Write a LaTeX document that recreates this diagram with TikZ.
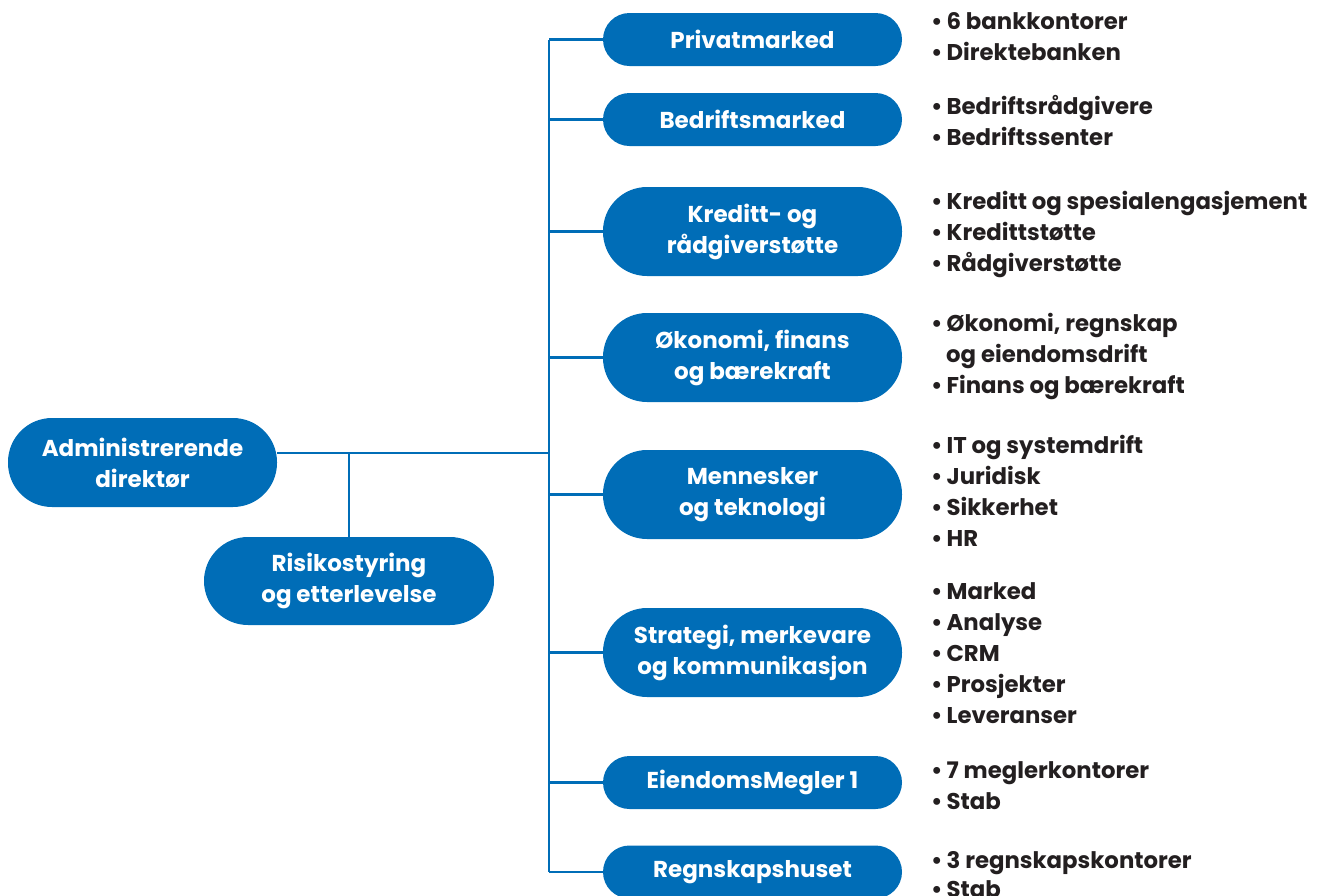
\documentclass[tikz,border=0pt]{standalone}
\usepackage{fontspec}
\setmainfont{Poppins}
\definecolor{orgblue}{HTML}{006DB7}
\definecolor{txt}{HTML}{231F20}
\tikzset{
  box/.style={fill=orgblue, rounded corners=44pt, text=white, font=\bfseries\fontsize{23}{31}\selectfont, align=center, inner sep=0pt},
  onebox/.style={box, minimum width=299pt, minimum height=53pt, rounded corners=26.5pt},
  twobox/.style={box, minimum width=299pt, minimum height=89pt},
  item/.style={anchor=base west, inner sep=0pt, text=txt, font=\bfseries\fontsize{22.8}{31}\selectfont},
  conn/.style={draw=orgblue, line width=2.5pt}
}
\begin{document}
\begin{tikzpicture}[x=1pt,y=-1pt]
\useasboundingbox (0,0) rectangle (1333,895);
% left boxes
\node[box, minimum width=269pt, minimum height=89pt] (adm) at (142.5,462.5) {Administrerende\\direktør};
\node[box, minimum width=290pt, minimum height=88pt] (risk) at (349,581) {Risikostyring\\og etterlevelse};
% right boxes
\node[onebox] (pm) at (752.5,39.5) {Privatmarked};
\node[onebox] (bm) at (752.5,119.5) {Bedriftsmarked};
\node[twobox] (kr) at (752.5,231.5) {Kreditt- og\\rådgiverstøtte};
\node[twobox] (ok) at (752.5,357.5) {Økonomi, finans\\og bærekraft};
\node[twobox] (me) at (752.5,494.5) {Mennesker\\og teknologi};
\node[twobox] (st) at (752.5,652.5) {Strategi, merkevare\\og kommunikasjon};
\node[onebox] (em) at (752.5,782.5) {EiendomsMegler 1};
\node[onebox] (rh) at (752.5,872) {Regnskapshuset};
% bus
\coordinate (bt) at (549,39.5);
\coordinate (bb) at (549,872);
\coordinate (bj) at (549,453);
\coordinate (rj) at (349,453);
\draw[conn] (bt) -- (bb);
\draw[conn] (adm.east |- bj) -- (bj);
\draw[conn] (rj) -- (risk.north);
\foreach \n in {pm,bm,kr,ok,me,st,em,rh}
  \draw[conn] (bt |- \n.west) -- (\n.west);
% items
\foreach \t/\y [count=\i] in {
  {6 bankkontorer}/29, {Direktebanken}/60,
  {Bedriftsrådgivere}/114, {Bedriftssenter}/145,
  {Kreditt og spesialengasjement}/209, {Kredittstøtte}/240, {Rådgiverstøtte}/271,
  {Økonomi, regnskap}/331, {Finans og bærekraft}/393,
  {IT og systemdrift}/453, {Juridisk}/484, {Sikkerhet}/515, {HR}/546,
  {Marked}/599, {Analyse}/630, {CRM}/661, {Prosjekter}/692, {Leveranser}/723,
  {7 meglerkontorer}/778, {Stab}/809,
  {3 regnskapskontorer}/868, {Stab}/897}
  \node[item] (it\i) at (931,\y) {•\hspace{4pt}\t};
\node[item] (itx) at (946,362) {og eiendomsdrift};
\end{tikzpicture}
\end{document}
